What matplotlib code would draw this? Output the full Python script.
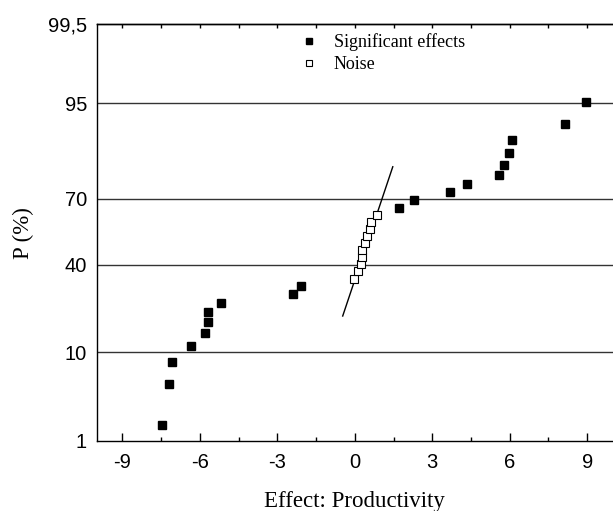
import math
import numpy as np
import matplotlib
matplotlib.use('Agg')
import matplotlib.pyplot as plt
from matplotlib.ticker import FixedLocator, NullLocator, MultipleLocator

plt.rcParams['axes.unicode_minus'] = False

# Sorted effects (normal probability plot of the 2^5 design effects)
sig_low = [-7.47, -7.19, -7.09, -6.34, -5.82, -5.69, -5.67, -5.17, -2.38, -2.10]
noise = [-0.05, 0.14, 0.25, 0.26, 0.27, 0.38, 0.47, 0.60, 0.61, 0.85]
sig_high = [1.73, 2.31, 3.70, 4.36, 5.59, 5.77, 5.99, 6.09, 8.13, 8.94]

n_effects = 31
ranks_low = list(range(1, 11))
ranks_noise = list(range(11, 21))
ranks_high = list(range(21, 31))

# fitted line through the noise effects
line_x = [-0.47, 1.47]
line_p = [19.6, 81.6]

p_ticks = [1, 10, 40, 70, 95, 99.5]
p_labels = ['1', '10', '40', '70', '95', '99,5']
grid_p = [10, 40, 70, 95]
x_ticks = [-9, -6, -3, 0, 3, 6, 9]

_erf = np.vectorize(math.erf, otypes=[float])


def cdf_z(z):
    return 0.5 * (1 + _erf(np.asarray(z, float) / math.sqrt(2)))


def ppf(p):
    # percent -> normal quantile, simple bisection
    p = np.clip(np.asarray(p, float) / 100.0, 1e-10, 1 - 1e-10)
    lo = np.full(p.shape, -8.0)
    hi = np.full(p.shape, 8.0)
    for _ in range(60):
        mid = (lo + hi) / 2
        below = cdf_z(mid) < p
        lo = np.where(below, mid, lo)
        hi = np.where(below, hi, mid)
    return (lo + hi) / 2


def inv_ppf(z):
    return 100.0 * cdf_z(z)


def plot_pos(ranks):
    return [(r - 0.5) / n_effects * 100 for r in ranks]


fig = plt.figure(figsize=(6.13, 5.11), dpi=100)
ax = fig.add_axes([0.1577, 0.137, 0.8423, 0.8154])
ax.set_yscale('function', functions=(ppf, inv_ppf))

ax.plot(line_x, line_p, color='k', linewidth=1.0, zorder=2)

ax.plot(sig_low + sig_high, plot_pos(ranks_low) + plot_pos(ranks_high),
        linestyle='none', marker='s', markersize=5.6, color='k',
        label='Significant effects', zorder=3)
ax.plot(noise, plot_pos(ranks_noise), linestyle='none', marker='s',
        markersize=5.6, markerfacecolor='white', markeredgecolor='k',
        markeredgewidth=0.8, label='Noise', zorder=3)

ax.set_xlim(-10, 10)
ax.set_ylim(1, 99.5)

ax.yaxis.set_major_locator(FixedLocator(p_ticks))
ax.yaxis.set_minor_locator(NullLocator())
ax.set_yticklabels(p_labels)
ax.xaxis.set_major_locator(FixedLocator(x_ticks))
ax.xaxis.set_minor_locator(MultipleLocator(1.5))

for t in ax.get_xticklabels() + ax.get_yticklabels():
    t.set_fontfamily('Liberation Sans')
    t.set_fontsize(14.5)

ax.tick_params(axis='x', which='major', direction='in', length=6, width=1,
               pad=9)
ax.tick_params(axis='x', which='minor', direction='in', length=3, width=1)
ax.tick_params(axis='y', which='major', direction='in', length=0, pad=7)

# small ticks along the top edge
top = ax.secondary_xaxis('top')
top.xaxis.set_major_locator(MultipleLocator(1.5))
top.tick_params(direction='in', length=3, width=1, labeltop=False)

# horizontal grid lines
for p in grid_p:
    ax.axhline(p, color='#333333', linewidth=1.0, zorder=1)

ax.spines['right'].set_visible(False)
top.spines['top'].set_linewidth(1.0)
for s in ['left', 'bottom', 'top']:
    ax.spines[s].set_linewidth(1.0)

ax.set_xlabel('Effect: Productivity', fontfamily='Liberation Serif',
              fontsize=16.5, labelpad=13)
ax.set_ylabel('P (%)', fontfamily='Liberation Serif', fontsize=16.5,
              labelpad=10)

ax.legend(loc='upper left', bbox_to_anchor=(0.37, 1.005), frameon=False,
          prop={'family': 'Liberation Serif', 'size': 13},
          markerscale=0.8, handlelength=1.2, handletextpad=0.75,
          labelspacing=0.3, borderaxespad=0.2)

fig.savefig('out.png', dpi=100)
